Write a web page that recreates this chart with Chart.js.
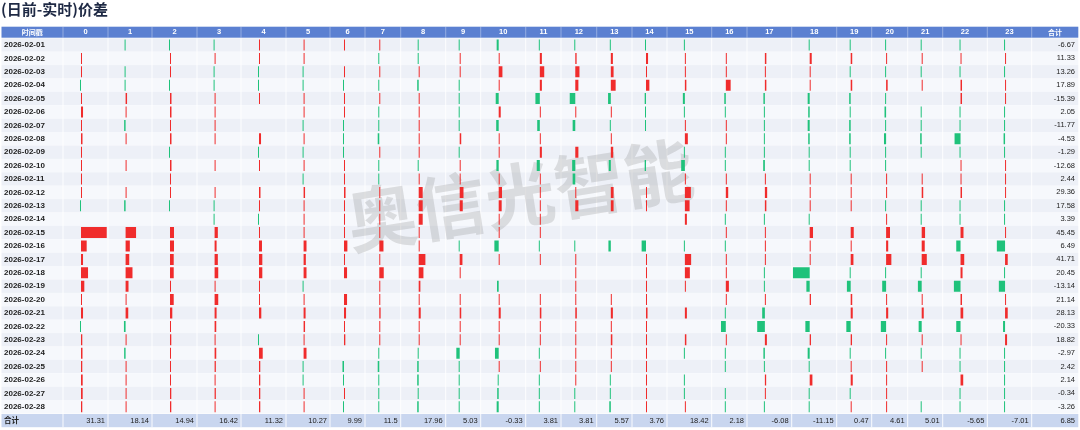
<!DOCTYPE html>
<html><head><meta charset="utf-8">
<script src="https://cdn.jsdelivr.net/npm/chart.js@4.4.1/dist/chart.umd.min.js"></script>
<style>html,body{margin:0;padding:0;background:#fff;}#wrap{width:1080px;height:430px;}</style>
</head><body><div id="wrap"><canvas id="c" width="1080" height="430"></canvas></div>
<script>
const chartTitle = '(日前-实时)价差';
const watermarkText = '奥信光智能';
const firstHeader = '时间戳';
const totalLabel = '合计';
const dates = ['2026-02-01','2026-02-02','2026-02-03','2026-02-04','2026-02-05','2026-02-06','2026-02-07','2026-02-08','2026-02-09','2026-02-10','2026-02-11','2026-02-12','2026-02-13','2026-02-14','2026-02-15','2026-02-16','2026-02-17','2026-02-18','2026-02-19','2026-02-20','2026-02-21','2026-02-22','2026-02-23','2026-02-24','2026-02-25','2026-02-26','2026-02-27','2026-02-28'];
const hours = ['0','1','2','3','4','5','6','7','8','9','10','11','12','13','14','15','16','17','18','19','20','21','22','23'];

// hourly price difference per date (one array per hour)
const h00 = [null,12,12,-12,9,30,12,22,12,12,12,12,-12,null,380,84,30,104,49,12,30,-9,19,22,19,25,25,19];
const h01 = [-12,null,-12,-12,22,12,-22,12,null,12,null,12,-22,null,158,64,55,104,44,9,40,-25,12,-22,12,12,12,12];
const h02 = [-12,12,12,-12,22,22,9,22,-12,22,9,9,-12,null,59,59,55,55,12,55,34,9,19,9,12,9,19,19];
const h03 = [-12,12,-12,-12,12,12,12,12,null,12,null,12,-12,-12,49,30,49,55,12,55,30,25,9,25,19,12,19,12];
const h04 = [7,7,-12,-12,9,null,null,30,-12,9,null,22,12,-12,12,44,49,49,9,9,34,null,-9,55,19,19,19,19];
const h05 = [12,12,-12,-12,12,12,-12,12,-12,12,-12,22,12,12,12,44,34,44,-12,12,30,22,12,44,-9,-9,12,12];
const h06 = [15,null,15,-15,15,15,-15,-15,-15,15,15,29,15,15,15,64,15,58,null,58,39,15,25,null,-29,-9,9,-9];
const h07 = [15,-15,9,-15,15,-15,-15,-29,15,-15,-15,15,15,15,15,78,15,83,15,15,25,15,15,-9,-29,-9,-9,-15];
const h08 = [-12,-12,12,-22,12,12,12,12,12,-12,12,59,59,59,12,9,99,70,25,12,30,12,12,-12,-22,-22,-7,-22];
const h09 = [-15,9,15,-15,-15,-9,-15,29,-9,15,15,72,58,null,null,-15,52,9,null,15,29,15,15,-64,-9,-15,-15,-15];
const h10 = [-30,12,55,7,-44,30,-37,7,12,-34,12,49,44,7,7,-64,12,null,-25,12,30,12,12,-55,9,-12,-22,-30];
const h11 = [-15,39,83,39,-83,9,-49,9,39,-58,15,15,15,9,9,-15,15,null,null,15,29,15,15,-9,15,-15,-9,-9];
const h12 = [-15,25,78,58,-103,15,-49,null,58,-58,-49,9,58,null,null,-15,15,9,9,12,29,15,9,15,9,15,-9,-15];
const h13 = [-15,39,52,91,-52,15,-9,15,45,-39,null,52,52,null,null,-45,null,null,null,15,39,15,29,15,15,-9,-9,-29];
const h14 = [-15,39,15,64,-25,-15,-15,null,null,-25,null,15,15,null,null,-83,15,15,9,15,29,15,15,15,15,15,15,15];
const h15 = [-12,12,12,22,-30,-12,7,44,-12,-55,12,89,70,30,null,-7,93,74,12,null,30,null,22,-7,null,-7,-7,12];
const h16 = [null,12,12,91,-29,-15,9,9,-15,-15,9,45,15,-15,15,-15,9,15,58,15,-9,-91,15,-9,-9,null,-15,-9];
const h17 = [null,22,12,22,-22,-12,-12,-12,-12,-25,12,34,22,-12,9,9,9,-12,-12,9,-40,-114,30,-22,-12,19,12,-12];
const h18 = [-12,30,9,9,-30,-22,-30,-22,-12,-7,9,9,9,-12,49,12,12,-247,-49,19,null,-64,19,-30,-12,40,-12,-12];
const h19 = [-15,29,-15,29,-29,-15,-29,-29,-15,-9,9,9,9,null,58,15,52,-15,-72,29,39,-83,25,-9,9,39,-9,9];
const h20 = [-9,15,-9,29,-9,-29,-9,-39,-15,-9,12,9,-9,15,72,39,97,-15,-72,15,39,-97,15,-9,15,15,15,15];
const h21 = [-15,15,-15,12,null,-15,-9,-29,-9,null,12,29,-9,-15,64,58,97,-9,-72,9,39,-58,9,-9,9,null,null,-15];
const h22 = [-12,12,-12,22,22,-7,-7,-89,-7,12,12,22,-12,-12,44,-64,55,30,-99,22,40,-64,9,-7,-7,40,-12,-12];
const h23 = [-12,12,-9,12,12,-7,-7,-22,-12,12,12,9,-9,-9,12,-123,40,-9,-93,9,40,-30,30,-7,-7,-12,-9,-12];
const hourSeries = [h00,h01,h02,h03,h04,h05,h06,h07,h08,h09,h10,h11,h12,h13,h14,h15,h16,h17,h18,h19,h20,h21,h22,h23];

const rowTotals = [-6.67,11.33,13.26,17.89,-15.39,2.05,-11.77,-4.53,-1.29,-12.68,2.44,29.36,17.58,3.39,45.45,6.49,41.71,20.45,-13.14,21.14,28.13,-20.33,18.82,-2.97,2.42,2.14,-0.34,-3.26];
const colTotals = [31.31,18.14,14.94,16.42,11.32,10.27,9.99,11.5,17.96,5.03,-0.33,3.81,3.81,5.57,3.76,18.42,2.18,-6.08,-11.15,0.47,4.61,5.01,-5.65,-7.01];
const grandTotal = 6.85;

// layout (column widths in px)
const colWidths = [45,44,45,44,45,44,35,35.7,45,35,45,35.3,35.7,35.3,35,44.7,35.3,44.7,45,35,36,35,44.6,44.4];

const RED = '#f02c2c', GREEN = '#1fc27b';
const allVals = hourSeries.flat().filter(v => v !== null);
const gMin = Math.min(...allVals), gMax = Math.max(...allVals);
const pad = (gMax - gMin) * 0.03;

const scales = {
  y: {type:'category', position:'left', offset:true, labels: dates,
      grid:{display:false}, border:{display:false},
      ticks:{autoSkip:false, crossAlign:'far', color:'#222', font:{family:"'Liberation Sans', Arial, sans-serif", size:8, weight:'bold'}},
      afterFit: s => { s.width = 59; }},
  y2: {type:'category', position:'right', offset:true, labels: rowTotals.map(String),
      grid:{display:false}, border:{display:false},
      ticks:{autoSkip:false, crossAlign:'far', color:'#222', font:{family:"'Liberation Sans', Arial, sans-serif", size:7.5}},
      afterFit: s => { s.width = 43.3; }}
};
hours.forEach((h, i) => {
  scales['h' + i] = {type:'linear', axis:'x', position:'bottom', display:false,
    stack:'hrs', stackWeight: colWidths[i], min: gMin - pad, max: gMax + pad};
});

const datasets = hours.map((h, i) => ({
  label: h, data: hourSeries[i], xAxisID: 'h' + i, yAxisID: 'y',
  grouped: false, categoryPercentage: 1, barPercentage: 0.82, borderWidth: 0, minBarLength: 1,
  backgroundColor: ctx => ((ctx.raw ?? 0) >= 0 ? RED : GREEN)
}));

const tablePlugin = {
  id: 'table',
  beforeDraw(chart) {
    const {ctx, chartArea: ca} = chart;
    const ys = chart.scales.y;
    const pitch = ys.getPixelForValue(1) - ys.getPixelForValue(0);
    const L = 1.5, R = 1078.3;
    const edges = [ca.left];
    hours.forEach((h, i) => { if (i > 0) edges.push(chart.scales['h' + i].left); });
    edges.push(ca.right);
    ctx.save();
    ctx.fillStyle = '#fff'; ctx.fillRect(0, 0, chart.width, chart.height);
    ctx.fillStyle = '#1e2944';
    ctx.font = "bold 15px 'Noto Sans CJK SC', sans-serif";
    ctx.textBaseline = 'middle'; ctx.textAlign = 'left';
    ctx.fillText(chartTitle, 1, 9);
    const hTop = ca.top - 11.6;
    ctx.fillStyle = '#5b80d1'; ctx.fillRect(L, hTop, R - L, 11);
    ctx.fillStyle = 'rgba(255,255,255,0.35)';
    edges.forEach(x => ctx.fillRect(x - 0.5, hTop, 1, 11));
    dates.forEach((d, i) => {
      const yc = ys.getPixelForValue(i);
      ctx.fillStyle = i % 2 === 0 ? '#edf0f7' : '#f6f8fc';
      ctx.fillRect(L, yc - pitch / 2, R - L, pitch);
    });
    ctx.fillStyle = '#c9d6ef'; ctx.fillRect(L, ca.bottom + 0.5, R - L, 13.2);
    ctx.fillStyle = 'rgba(255,255,255,0.9)';
    edges.forEach(x => ctx.fillRect(x - 0.5, ca.top, 1, ca.bottom - ca.top + 13.7));
    ctx.translate(520, 195); ctx.rotate(-9 * Math.PI / 180);
    ctx.font = "bold 70px 'Noto Sans CJK SC', sans-serif";
    ctx.fillStyle = 'rgba(140,140,140,0.26)'; ctx.textAlign = 'center';
    ctx.fillText(watermarkText, 0, 0);
    ctx.restore();
  },
  afterDraw(chart) {
    const {ctx, chartArea: ca} = chart;
    const L = 1.5, R = 1078.3;
    ctx.save();
    ctx.textBaseline = 'middle';
    const hy = ca.top - 6.1;
    ctx.fillStyle = '#fff';
    ctx.font = "bold 7px 'Noto Sans CJK SC', sans-serif"; ctx.textAlign = 'center';
    ctx.fillText(firstHeader, (L + ca.left) / 2, hy);
    ctx.fillText(totalLabel, (ca.right + R) / 2, hy);
    ctx.font = "bold 7.5px 'Liberation Sans', Arial, sans-serif";
    hours.forEach((h, i) => {
      const s = chart.scales['h' + i];
      ctx.fillText(h, (s.left + s.right) / 2, hy);
    });
    const ty = ca.bottom + 7.1;
    ctx.fillStyle = '#222';
    ctx.textAlign = 'left';
    ctx.font = "bold 7.5px 'Noto Sans CJK SC', sans-serif";
    ctx.fillText(totalLabel, 4, ty);
    ctx.textAlign = 'right';
    ctx.font = "7.5px 'Liberation Sans', Arial, sans-serif";
    colTotals.forEach((v, i) => {
      const s = chart.scales['h' + i];
      ctx.fillText(String(v), s.right - 3, ty);
    });
    ctx.fillText(String(grandTotal), 1075, ty);
    ctx.restore();
  }
};

new Chart(document.getElementById('c'), {
  type: 'bar',
  data: { labels: dates, datasets },
  options: {
    indexAxis: 'y', responsive: false, animation: false,
    layout: { padding: { top: 38.3, bottom: 16.5, left: 4, right: 5 } },
    plugins: { legend: {display:false}, tooltip: {enabled:false}, title: {display:false} },
    scales
  },
  plugins: [tablePlugin]
});
</script></body></html>
